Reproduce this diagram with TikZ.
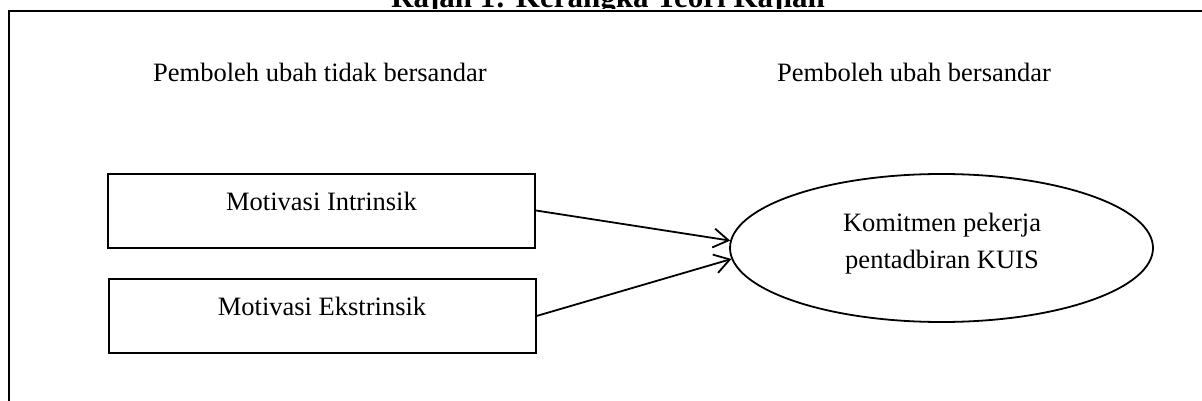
\documentclass[tikz,border=0pt]{standalone}
\usepackage{fontspec}
\setmainfont{Liberation Serif}
\usetikzlibrary{shapes.geometric,arrows.meta}
\tikzset{
  txt/.style={inner sep=0pt, font=\fontsize{26.5}{37}\selectfont},
  boxnode/.style={draw, line width=2pt, minimum width=427pt, minimum height=74pt, inner sep=0pt},
  ovalnode/.style={draw, ellipse, line width=1.8pt, minimum width=423pt, minimum height=148pt, inner sep=0pt},
  link/.style={line width=1.8pt, -{Straight Barb[length=15pt,width=19pt,line width=1.8pt]}},
  frame/.style={line width=2.2pt}
}
\begin{document}
\begin{tikzpicture}[x=1pt,y=-1pt]
\useasboundingbox (0,0) rectangle (1202,401);
\clip (0,0) rectangle (1202,401);
\fill[white] (0,0) rectangle (1202,401);
% title (partly cut off, as in the reference)
\begin{scope}
\clip (0,0) rectangle (1202,8.5);
\node[inner sep=0pt, anchor=base, font=\fontsize{31}{37}\selectfont\bfseries] (title) at (608,8) {Rajah 1: Kerangka Teori Kajian};
\end{scope}
% frame
\draw[frame] (9,11) rectangle (1220,420);
% headings
\node[txt, anchor=base west] (h1) at (153,82) {Pemboleh ubah tidak bersandar};
\node[txt, anchor=base west] (h2) at (777,82) {Pemboleh ubah bersandar};
% boxes
\node[boxnode] (b1) at (321.5,210.5) {};
\node[txt, anchor=base] (t1) at (321.5,210) {Motivasi Intrinsik};
\node[boxnode] (b2) at (322,316) {};
\node[txt, anchor=base] (t2) at (322,315) {Motivasi Ekstrinsik};
% ellipse
\node[ovalnode] (e) at (941.5,248) {};
\node[txt, align=center] (te) at (942,244) {Komitmen pekerja\\pentadbiran KUIS};
% arrows
\draw[link] (b1.east) -- (e.178);
\draw[link] (b2.east) -- (e.183);
\end{tikzpicture}
\end{document}
